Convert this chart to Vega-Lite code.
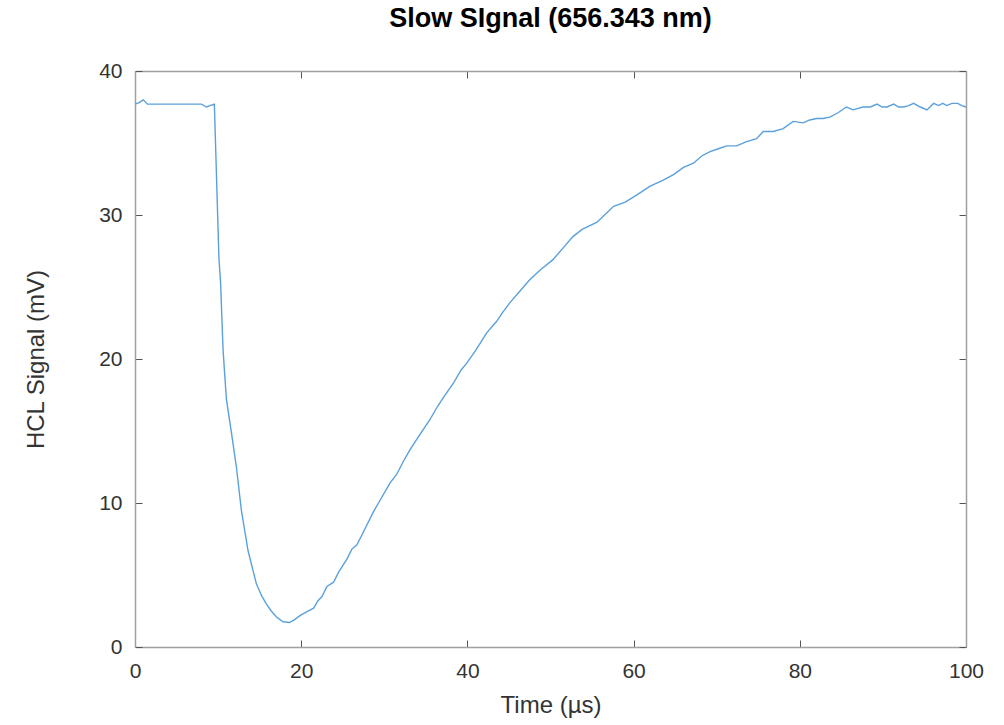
{
  "$schema": "https://vega.github.io/schema/vega-lite/v6.json",
  "autosize": {"type": "none"},
  "padding": {"left": 135, "top": 71, "right": 38, "bottom": 78},
  "width": 831,
  "height": 576,
  "background": "white",
  "title": {
    "text": "Slow SIgnal (656.343 nm)",
    "font": "Liberation Sans, Arial, sans-serif",
    "fontSize": 27,
    "fontWeight": "bold",
    "color": "#000000",
    "anchor": "middle",
    "baseline": "alphabetic",
    "offset": 6
  },
  "config": {
    "view": {"stroke": null},
    "axis": {
      "grid": false,
      "domainColor": "#a0a0a0",
      "domainWidth": 1.5,
      "tickColor": "#555555",
      "tickWidth": 1,
      "tickSize": -7,
      "labelFont": "Liberation Sans, Arial, sans-serif",
      "labelFontSize": 21,
      "labelColor": "#333333",
      "titleFont": "Liberation Sans, Arial, sans-serif",
      "titleFontSize": 24,
      "titleFontWeight": "normal",
      "titleColor": "#333333"
    }
  },
  "data": {
    "values": [
      {"t": 0, "v": 37.7}, {"t": 0.5, "v": 37.8}, {"t": 1.0, "v": 38.0}, {"t": 1.5, "v": 37.7},
      {"t": 2, "v": 37.7}, {"t": 3, "v": 37.7}, {"t": 4, "v": 37.7}, {"t": 5, "v": 37.7},
      {"t": 6, "v": 37.7}, {"t": 7, "v": 37.7}, {"t": 8, "v": 37.7}, {"t": 8.6, "v": 37.5},
      {"t": 9.0, "v": 37.6}, {"t": 9.55, "v": 37.7}, {"t": 10.1, "v": 27.0}, {"t": 10.3, "v": 25.3},
      {"t": 10.6, "v": 20.6}, {"t": 11.0, "v": 17.2}, {"t": 11.6, "v": 14.9}, {"t": 12.2, "v": 12.5},
      {"t": 12.8, "v": 9.5}, {"t": 13.6, "v": 6.7}, {"t": 14.6, "v": 4.4}, {"t": 15.2, "v": 3.6},
      {"t": 15.8, "v": 3.0}, {"t": 16.4, "v": 2.5}, {"t": 17.0, "v": 2.1}, {"t": 17.8, "v": 1.75},
      {"t": 18.6, "v": 1.7}, {"t": 19.2, "v": 1.9}, {"t": 19.9, "v": 2.2}, {"t": 20.7, "v": 2.45},
      {"t": 21.5, "v": 2.7}, {"t": 22.0, "v": 3.2}, {"t": 22.5, "v": 3.5}, {"t": 23.1, "v": 4.2},
      {"t": 23.9, "v": 4.5}, {"t": 24.5, "v": 5.2}, {"t": 25.5, "v": 6.1}, {"t": 26.1, "v": 6.8},
      {"t": 26.7, "v": 7.1}, {"t": 27.5, "v": 8.0}, {"t": 28.7, "v": 9.4}, {"t": 29.7, "v": 10.4},
      {"t": 30.7, "v": 11.4}, {"t": 31.5, "v": 12.0}, {"t": 32.3, "v": 12.9}, {"t": 33.1, "v": 13.7},
      {"t": 34.0, "v": 14.5}, {"t": 35.5, "v": 15.8}, {"t": 36.4, "v": 16.7}, {"t": 37.2, "v": 17.4},
      {"t": 38.3, "v": 18.3}, {"t": 39.2, "v": 19.2}, {"t": 39.9, "v": 19.7}, {"t": 41.0, "v": 20.6},
      {"t": 42.3, "v": 21.8}, {"t": 43.5, "v": 22.6}, {"t": 44.2, "v": 23.2}, {"t": 45.1, "v": 23.9},
      {"t": 46.3, "v": 24.7}, {"t": 47.5, "v": 25.5}, {"t": 48.8, "v": 26.2}, {"t": 50.3, "v": 26.9},
      {"t": 51.5, "v": 27.7}, {"t": 52.7, "v": 28.5}, {"t": 53.8, "v": 29.0}, {"t": 55.6, "v": 29.5},
      {"t": 56.5, "v": 30.0}, {"t": 57.6, "v": 30.6}, {"t": 59.0, "v": 30.9}, {"t": 60.4, "v": 31.4},
      {"t": 62.0, "v": 32.0}, {"t": 63.5, "v": 32.4}, {"t": 64.8, "v": 32.8}, {"t": 66.0, "v": 33.3},
      {"t": 67.2, "v": 33.6}, {"t": 68.2, "v": 34.1}, {"t": 69.2, "v": 34.4}, {"t": 70.2, "v": 34.6},
      {"t": 71.2, "v": 34.8}, {"t": 72.4, "v": 34.8}, {"t": 73.6, "v": 35.1}, {"t": 74.8, "v": 35.3},
      {"t": 75.6, "v": 35.8}, {"t": 76.8, "v": 35.8}, {"t": 78.0, "v": 36.0}, {"t": 79.2, "v": 36.5},
      {"t": 80.4, "v": 36.4}, {"t": 81.2, "v": 36.6}, {"t": 82.0, "v": 36.7}, {"t": 82.8, "v": 36.7},
      {"t": 83.6, "v": 36.8}, {"t": 84.6, "v": 37.1}, {"t": 85.6, "v": 37.5}, {"t": 86.4, "v": 37.3},
      {"t": 87.6, "v": 37.5}, {"t": 88.5, "v": 37.5}, {"t": 89.3, "v": 37.7}, {"t": 89.9, "v": 37.5},
      {"t": 90.5, "v": 37.5}, {"t": 91.3, "v": 37.7}, {"t": 91.9, "v": 37.5}, {"t": 92.5, "v": 37.5},
      {"t": 93.1, "v": 37.6}, {"t": 93.7, "v": 37.75}, {"t": 94.5, "v": 37.5}, {"t": 95.3, "v": 37.3},
      {"t": 96.1, "v": 37.75}, {"t": 96.7, "v": 37.6}, {"t": 97.2, "v": 37.75}, {"t": 97.7, "v": 37.6},
      {"t": 98.3, "v": 37.75}, {"t": 99.0, "v": 37.75}, {"t": 99.5, "v": 37.6}, {"t": 100, "v": 37.5}
    ]
  },
  "layer": [
    {
      "mark": {"type": "line", "color": "#5aa0dc", "strokeWidth": 1.4},
      "encoding": {
        "x": {
          "field": "t", "type": "quantitative",
          "scale": {"domain": [0, 100], "nice": false, "zero": false},
          "axis": {"orient": "bottom", "title": "Time (µs)", "values": [0, 20, 40, 60, 80, 100], "labelPadding": 20, "titlePadding": 12, "labelFlush": false}
        },
        "y": {
          "field": "v", "type": "quantitative",
          "scale": {"domain": [0, 40], "nice": false, "zero": false},
          "axis": {"orient": "left", "title": "HCL Signal (mV)", "values": [0, 10, 20, 30, 40], "labelPadding": 20, "titlePadding": 50, "labelFlush": false}
        }
      }
    },
    {
      "mark": {"type": "line", "strokeOpacity": 0},
      "encoding": {
        "x": {
          "field": "t", "type": "quantitative",
          "axis": {"orient": "top", "title": null, "labels": false, "values": [0, 20, 40, 60, 80, 100]}
        },
        "y": {
          "field": "v", "type": "quantitative",
          "axis": {"orient": "right", "title": null, "labels": false, "values": [0, 10, 20, 30, 40]}
        }
      }
    }
  ],
  "resolve": {"axis": {"x": "independent", "y": "independent"}}
}
